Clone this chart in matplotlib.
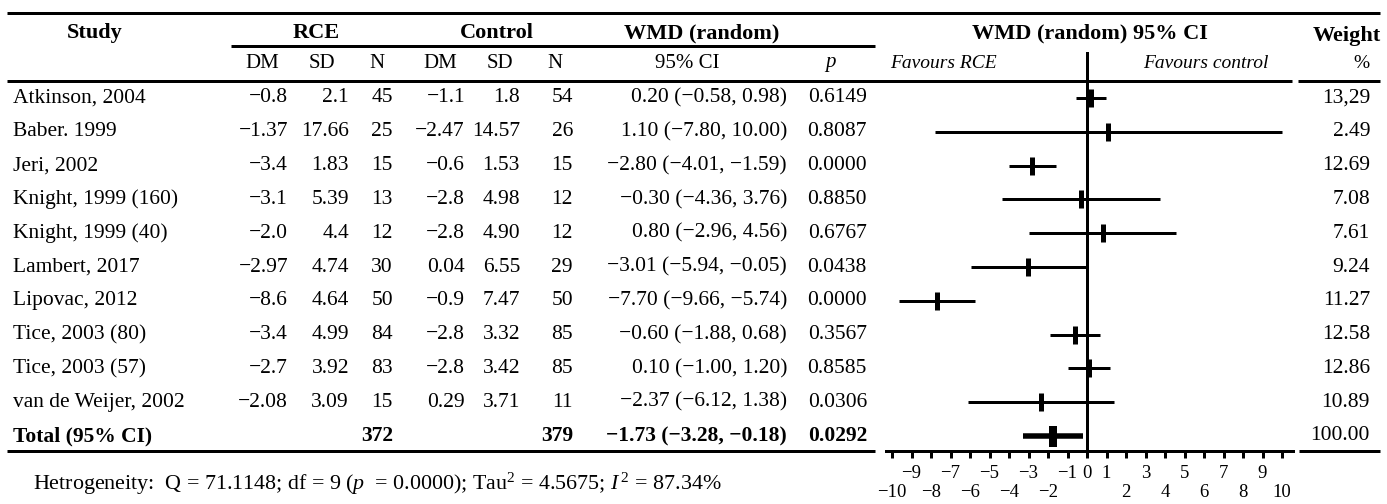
import matplotlib

matplotlib.use("Agg")
import matplotlib.pyplot as plt

# Study table
studies = [
    "Atkinson, 2004",
    "Baber. 1999",
    "Jeri, 2002",
    "Knight, 1999 (160)",
    "Knight, 1999 (40)",
    "Lambert, 2017",
    "Lipovac, 2012",
    "Tice, 2003 (80)",
    "Tice, 2003 (57)",
    "van de Weijer, 2002",
]
rce_dm = ["−0.8", "−1.37", "−3.4", "−3.1", "−2.0", "−2.97", "−8.6", "−3.4", "−2.7", "−2.08"]
rce_sd = ["2.1", "17.66", "1.83", "5.39", "4.4", "4.74", "4.64", "4.99", "3.92", "3.09"]
rce_n = [45, 25, 15, 13, 12, 30, 50, 84, 83, 15]
ctl_dm = ["−1.1", "−2.47", "−0.6", "−2.8", "−2.8", "0.04", "−0.9", "−2.8", "−2.8", "0.29"]
ctl_sd = ["1.8", "14.57", "1.53", "4.98", "4.90", "6.55", "7.47", "3.32", "3.42", "3.71"]
ctl_n = [54, 26, 15, 12, 12, 29, 50, 85, 85, 11]

# Weighted mean differences with 95% CI
wmd = [0.20, 1.10, -2.80, -0.30, 0.80, -3.01, -7.70, -0.60, 0.10, -2.37]
ci_lo = [-0.58, -7.80, -4.01, -4.36, -2.96, -5.94, -9.66, -1.88, -1.00, -6.12]
ci_hi = [0.98, 10.00, -1.59, 3.76, 4.56, -0.05, -5.74, 0.68, 1.20, 1.38]
p_vals = ["0.6149", "0.8087", "0.0000", "0.8850", "0.6767", "0.0438", "0.0000", "0.3567", "0.8585", "0.0306"]
weights = ["13,29", "2.49", "12.69", "7.08", "7.61", "9.24", "11.27", "12.58", "12.86", "10.89"]

total_wmd, total_lo, total_hi = -1.73, -3.28, -0.18
total_p = "0.0292"
total_weight = "100.00"

hetero = ("Hetrogeneity:  Q = 71.1148; df = 9 ($p$  = 0.0000); "
          "Tau$^2$ = 4.5675; $I^{\\,2}$ = 87.34%")

plt.rcParams["font.family"] = ["Liberation Serif", "DejaVu Serif"]
plt.rcParams["mathtext.fontset"] = "custom"
plt.rcParams["mathtext.rm"] = "Liberation Serif"
plt.rcParams["mathtext.it"] = "Liberation Serif:italic"
plt.rcParams["mathtext.bf"] = "Liberation Serif:bold"

W, H = 1387, 504
fig = plt.figure(figsize=(W / 100, H / 100), dpi=100)

# table layer in pixel coordinates
tab = fig.add_axes([0, 0, 1, 1])
tab.set_xlim(0, W)
tab.set_ylim(H, 0)
tab.axis("off")

PX = 0.72  # points per pixel
FS = 15.5


def fmt(v):
    return f"{v:.2f}".replace("-", "−")


def ci_text(m, lo, hi):
    return f"{fmt(m)} ({fmt(lo)}, {fmt(hi)})"


def rule(x0, x1, y):
    tab.plot([x0, x1], [y, y], color="black", lw=3 * PX, solid_capstyle="butt")


rule(7, 1380, 13)
rule(231, 875, 46)
rule(7, 1292, 81)
rule(1298, 1380, 81)
rule(7, 875, 451)
rule(1299, 1380, 451)

# headers
hdr = dict(fontsize=FS + 0.5, fontweight="bold", va="center")
tab.text(95, 33, "Study", ha="center", **hdr)
tab.text(316, 33, "RCE", ha="center", **hdr)
tab.text(497, 33, "Control", ha="center", **hdr)
tab.text(702, 33, "WMD (random)", ha="center", **hdr)
tab.text(1090, 33, "WMD (random) 95% CI", ha="center", **hdr)
tab.text(1381, 36, "Weight", ha="right", **hdr)

sub = dict(fontsize=FS - 0.5, va="center", ha="center")
for x, s in zip([262, 322, 377, 440, 500, 555, 687], ["DM", "SD", "N", "DM", "SD", "N", "95% CI"]):
    tab.text(x, 63, s, **sub)
tab.text(830, 63, "p", style="italic", **sub)
tab.text(890, 63, "Favours RCE", fontsize=FS - 1.5, style="italic", ha="left", va="center")
tab.text(1268, 63, "Favours control", fontsize=FS - 1.5, style="italic", ha="right", va="center")
tab.text(1370, 63, "%", fontsize=FS - 1.5, ha="right", va="center")

# body rows
row0, step = 98, 33.8
cols = [288, 349, 393, 465, 520, 573, 787, 867, 1370]
for i, name in enumerate(studies):
    y = row0 + step * i
    tab.text(13, y, name, fontsize=FS, ha="left", va="center")
    vals = [rce_dm[i], rce_sd[i], str(rce_n[i]), ctl_dm[i], ctl_sd[i], str(ctl_n[i]),
            ci_text(wmd[i], ci_lo[i], ci_hi[i]), p_vals[i], weights[i]]
    for x, s in zip(cols, vals):
        tab.text(x, y, s, fontsize=FS, ha="right", va="center")

yt = row0 + step * len(studies)
bold = dict(fontsize=FS, fontweight="bold", va="center")
tab.text(13, yt, "Total (95% CI)", ha="left", **bold)
tab.text(393, yt, str(sum(rce_n)), ha="right", **bold)
tab.text(573, yt, str(sum(ctl_n)), ha="right", **bold)
tab.text(787, yt, ci_text(total_wmd, total_lo, total_hi), ha="right", **bold)
tab.text(867, yt, total_p, ha="right", **bold)
tab.text(1370, yt, total_weight, fontsize=FS, ha="right", va="center")

tab.text(33, 484, hetero, fontsize=FS + 0.3, ha="left", va="center")

# forest plot
x0_px, x1_px, zero_px, ppu = 886, 1293, 1087, 19.5
y_top, y_bot = 52, 451
ax = fig.add_axes([x0_px / W, 1 - y_bot / H, (x1_px - x0_px) / W, (y_bot - y_top) / H])
ax.set_xlim((x0_px - zero_px) / ppu, (x1_px - zero_px) / ppu)
ax.set_ylim((y_bot - row0) / step, (y_top - row0) / step)
ax.patch.set_alpha(0)
for s in ["top", "left", "right"]:
    ax.spines[s].set_visible(False)
ax.spines["bottom"].set_linewidth(3 * PX)
ax.set_yticks([])

ypos = list(range(len(studies)))
ax.axvline(0, color="black", lw=3 * PX)
ax.hlines(ypos, ci_lo, ci_hi, color="black", lw=3 * PX)
ax.plot(wmd, ypos, ls="none", marker="|", ms=18 * PX, mew=5 * PX, color="black")
ax.hlines([len(studies)], [total_lo], [total_hi], color="black", lw=5.5 * PX)
ax.plot([total_wmd], [len(studies)], ls="none", marker="|", ms=21 * PX, mew=8 * PX, color="black")

upper = [-9, -7, -5, -3, -1, 0, 1, 3, 5, 7, 9]
lower = [-10, -8, -6, -4, -2, 2, 4, 6, 8, 10]
ax.set_xticks(upper, [str(v).replace("-", "−") for v in upper])
ax.set_xticks(lower, [str(v).replace("-", "−") for v in lower], minor=True)
ax.tick_params(axis="x", which="both", direction="out", length=7 * PX, width=3 * PX,
               labelsize=13.5, color="black")
ax.tick_params(axis="x", which="major", pad=5)
ax.tick_params(axis="x", which="minor", pad=5 + 19 * PX)

fig.savefig("out.png", dpi=100)
